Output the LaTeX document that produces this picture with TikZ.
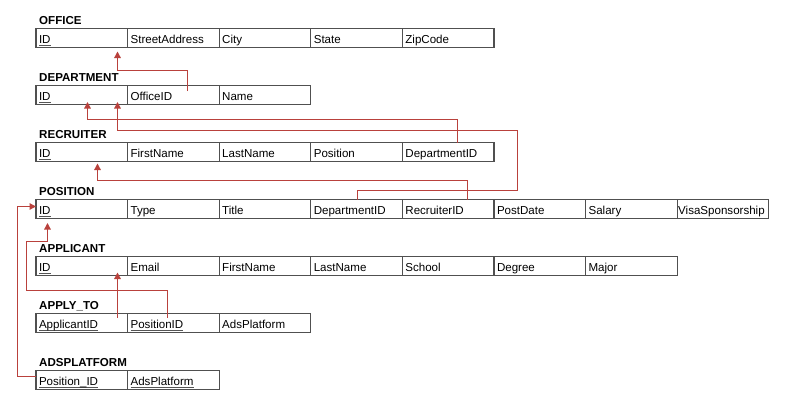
\documentclass[tikz,border=0pt]{standalone}
\usepackage{fontspec}
\setmainfont{Liberation Sans}
\usetikzlibrary{arrows.meta,calc}
\definecolor{fkred}{RGB}{185,65,60}
\definecolor{cellgray}{RGB}{80,80,80}
\definecolor{ulgray}{RGB}{85,85,85}
\newcommand\pk[1]{\setbox0\hbox{#1}\rlap{\color{ulgray}\rule[-2pt]{\wd0}{0.9pt}}\box0}
\tikzset{
  cell/.style={draw=cellgray, line width=1.1bp, anchor=north west, outer sep=0pt,
    minimum height=19bp, minimum width=91.6bp, text width=85.6bp,
    inner xsep=3bp, inner ysep=0pt, align=left, text height=11bp, text depth=0pt,
    font=\fontsize{11.6}{13}\selectfont},
  tabtitle/.style={anchor=base west, inner sep=0pt, font=\fontsize{11.6}{13}\selectfont\bfseries},
  fk/.style={draw=fkred, line width=1.3bp, -{Triangle[width=6.5bp,length=6.5bp]}}
}
\begin{document}
\begin{tikzpicture}[x=1bp,y=-1bp]
\useasboundingbox[fill=white] (0,0) rectangle (785,411);
% OFFICE
\node[tabtitle] (offT) at (39,24) {OFFICE};
\foreach \t [count=\i] in {{\pk{ID}},StreetAddress,City,State,ZipCode}
  \node[cell] (off\i) at ({36+91.6*(\i-1)},28.5) {\t};
% DEPARTMENT
\node[tabtitle] (depT) at (39,81) {DEPARTMENT};
\foreach \t [count=\i] in {{\pk{ID}},OfficeID,Name}
  \node[cell] (dep\i) at ({36+91.6*(\i-1)},85.5) {\t};
% RECRUITER
\node[tabtitle] (recT) at (39,138) {RECRUITER};
\foreach \t [count=\i] in {{\pk{ID}},FirstName,LastName,Position,DepartmentID}
  \node[cell] (rec\i) at ({36+91.6*(\i-1)},142.5) {\t};
% POSITION
\node[tabtitle] (posT) at (39,195) {POSITION};
\foreach \t [count=\i] in {{\pk{ID}},Type,Title,DepartmentID,RecruiterID,PostDate,Salary,{\hspace*{-2pt}VisaSponsorship}}
  \node[cell] (pos\i) at ({36+91.6*(\i-1)},199.5) {\t};
% APPLICANT
\node[tabtitle] (aplT) at (39,252) {APPLICANT};
\foreach \t [count=\i] in {{\pk{ID}},Email,FirstName,LastName,School,Degree,Major}
  \node[cell] (apl\i) at ({36+91.6*(\i-1)},256.5) {\t};
% APPLY_TO
\node[tabtitle] (aptT) at (39,309) {APPLY\_TO};
\foreach \t [count=\i] in {{\pk{ApplicantID}},{\pk{PositionID}},AdsPlatform}
  \node[cell] (apt\i) at ({36+91.6*(\i-1)},313.5) {\t};
% ADSPLATFORM
\node[tabtitle] (adsT) at (39,366) {ADSPLATFORM};
\foreach \t [count=\i] in {{\pk{Position\_ID}},{\pk{AdsPlatform}}}
  \node[cell] (ads\i) at ({36+91.6*(\i-1)},370.5) {\t};
% foreign keys
\draw[fk] ([xshift=59.9bp,yshift=-5.5bp]dep2.north west) -- ++(0,-20.5) -| ([xshift=81.5bp,yshift=-4bp]off1.south west);
\draw[fk] ([xshift=55.1bp]rec5.north west) -- ++(0,-23) -| ([xshift=51.5bp,yshift=2.5bp]dep1.south west);
\draw[fk] ([xshift=46.7bp]pos4.north west) -- ++(0,-9) -- ++(160,0) -- ++(0,-60) -| ([xshift=81.5bp,yshift=2.5bp]dep1.south west);
\draw[fk] ([xshift=65.1bp]pos5.north west) -- ++(0,-19) -| ([xshift=61.5bp,yshift=-2bp]rec1.south west);
\draw[fk] ([xshift=39.9bp,yshift=-4bp]apt2.north west) -- ++(0,-27) -- ++(-141,0) -- ++(0,-49) -| ([xshift=11.5bp,yshift=-4.5bp]pos1.south west);
\draw[fk] ([xshift=81.5bp,yshift=-4bp]apt1.north west) -- ([xshift=81.5bp,yshift=3bp]apl1.south west);
\draw[fk] ([yshift=-6bp]ads1.north west) -- ++(-18.5,0) |- ([yshift=-7bp]pos1.north west);
\end{tikzpicture}
\end{document}
